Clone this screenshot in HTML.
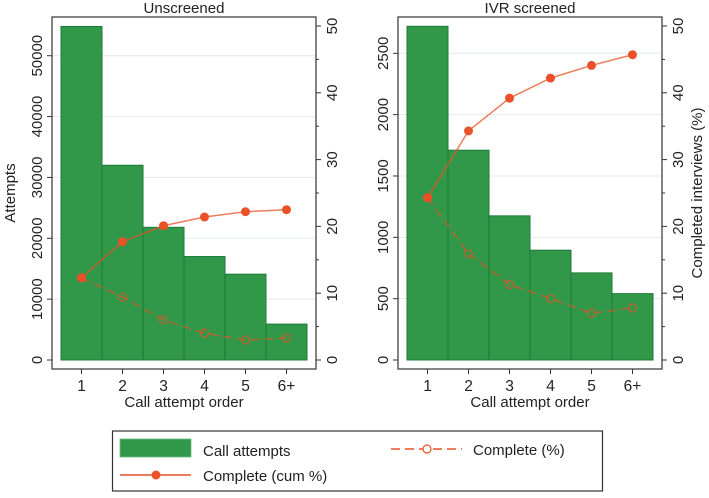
<!DOCTYPE html>
<html><head><meta charset="utf-8"><style>
body{margin:0;background:#fff;font-family:"Liberation Sans",sans-serif}
svg text{font-family:"Liberation Sans",sans-serif;fill:#222}
</style></head><body>
<svg id="c" width="709" height="493" viewBox="0 0 709 493"></svg>
<script>
const categories=["1","2","3","4","5","6+"];
const unscreenedAttempts=[54800,32000,21800,17000,14100,5900];
const unscreenedCum=[12.3,17.7,20.1,21.4,22.2,22.5];
const unscreenedComplete=[12.3,9.4,6.0,4.0,3.0,3.3];
const ivrAttempts=[2720,1710,1175,895,710,541];
const ivrCum=[24.3,34.3,39.2,42.2,44.1,45.7];
const ivrComplete=[24.3,15.9,11.3,9.2,7.0,7.8];
const unscreenedTicks=[0,10000,20000,30000,40000,50000];
const ivrTicks=[0,500,1000,1500,2000,2500];
const pctTicks=[0,10,20,30,40,50];

const NS="http://www.w3.org/2000/svg";
const svg=document.getElementById('c');
function mk(tag,attrs,parent,text){const e=document.createElementNS(NS,tag);for(const k in attrs)e.setAttribute(k,attrs[k]);if(text!==undefined)e.textContent=text;(parent||svg).appendChild(e);return e;}
const GREEN="#31984a",DARK="#1d7a37",ORANGE="#ea5128";

function panel(o){
  const g=mk('g',{});
  
  
  const x0=o.bx,x1=o.bx+264,top=17,bot=369,zero=360;
  const yL=v=>zero-v/o.lmax*(zero-o.lTop);
  const yR=v=>zero-v/50*(zero-26);
  const xC=i=>o.first+i*41;
  o.lticks.forEach(t=>{if(t>0){const gl=mk('line',{x1:x0,x2:x1,y1:yL(t),y2:yL(t),stroke:'#e4e8ec','stroke-width':1},g);}});
  o.bars.forEach((v,i)=>{const r=mk('rect',{x:xC(i)-20.5,y:yL(v),width:41,height:zero-yL(v),fill:GREEN,stroke:DARK,'stroke-width':1},g);});
  const fr=mk('rect',{x:x0,y:top,width:264,height:bot-top,fill:'none',stroke:'#333','stroke-width':1.2},g);
  
  o.lticks.forEach(t=>{const y=yL(t);mk('line',{x1:x0-5,x2:x0,y1:y,y2:y,stroke:'#333'},g);
    const tx=mk('text',{x:0,y:0,transform:`translate(${x0-10},${y}) rotate(-90)`,'text-anchor':'middle','font-size':15},g,String(t));
    });
  for(let t=0;t<=50;t+=5){const y=yR(t);mk('line',{x1:x1,x2:x1+(t%10?3:5),y1:y,y2:y,stroke:'#333'},g);}
  pctTicks.forEach(t=>{const tx=mk('text',{x:0,y:0,transform:`translate(${x1+21},${yR(t)}) rotate(-90)`,'text-anchor':'middle','font-size':15},g,String(t));
    });
  categories.forEach((c,i)=>{mk('line',{x1:xC(i),x2:xC(i),y1:bot,y2:bot+5,stroke:'#333'},g);
    const tx=mk('text',{x:xC(i),y:391,'text-anchor':'middle','font-size':15.5},g,c);
    });
  const xt=mk('text',{x:(x0+x1)/2,y:407,'text-anchor':'middle','font-size':15},g,'Call attempt order');
  
  const tt=mk('text',{x:(x0+x1)/2,y:13,'text-anchor':'middle','font-size':15},g,o.title);
  
  const cp=o.comp.map((v,i)=>xC(i)+','+yR(v)).join(' ');
  const l1=mk('polyline',{points:cp,fill:'none',stroke:ORANGE,'stroke-width':1.5,'stroke-dasharray':'9 5','stroke-opacity':0.7},g);
  
  o.comp.forEach((v,i)=>{const c=mk('circle',{cx:xC(i),cy:yR(v),r:4,fill:'none',stroke:ORANGE,'stroke-width':1.2,'stroke-opacity':0.8},g);});
  const pp=o.cum.map((v,i)=>xC(i)+','+yR(v)).join(' ');
  const l2=mk('polyline',{points:pp,fill:'none',stroke:ORANGE,'stroke-width':1.5,'stroke-opacity':0.75},g);
  
  o.cum.forEach((v,i)=>{const c=mk('circle',{cx:xC(i),cy:yR(v),r:4.5,fill:ORANGE},g);});
}
panel({name:'unscreened-panel',title:'Unscreened',bx:52,first:81.5,lmax:50000,lTop:55.7,lticks:unscreenedTicks,bars:unscreenedAttempts,cum:unscreenedCum,comp:unscreenedComplete});
panel({name:'ivr-panel',title:'IVR screened',bx:398,first:427.5,lmax:2500,lTop:53.3,lticks:ivrTicks,bars:ivrAttempts,cum:ivrCum,comp:ivrComplete});

const yl=mk('text',{x:0,y:0,transform:'translate(15,193) rotate(-90)','text-anchor':'middle','font-size':15},svg,'Attempts');

const yr=mk('text',{x:0,y:0,transform:'translate(702,193) rotate(-90)','text-anchor':'middle','font-size':15},svg,'Completed interviews (%)');


const lg=mk('g',{});


mk('rect',{x:112.5,y:431,width:490,height:60,fill:'#fff',stroke:'#333','stroke-width':1.2},lg);
const e1=mk('g',{},lg);
mk('rect',{x:120,y:439,width:71,height:18,fill:GREEN,stroke:'#6cbf7e','stroke-width':0.8},e1);
mk('text',{x:203,y:456,'font-size':15},e1,'Call attempts');
const e2=mk('g',{},lg);
mk('line',{x1:120,x2:191,y1:475,y2:475,stroke:ORANGE,'stroke-width':1.5},e2);
mk('circle',{cx:156,cy:475,r:4.5,fill:ORANGE},e2);
mk('text',{x:203,y:481,'font-size':15},e2,'Complete (cum %)');
const e3=mk('g',{},lg);
mk('line',{x1:391,x2:462,y1:449,y2:449,stroke:ORANGE,'stroke-width':1.5,'stroke-dasharray':'9 5'},e3);
mk('circle',{cx:427,cy:449,r:4,fill:'#fff',stroke:ORANGE,'stroke-width':1.2},e3);
mk('text',{x:473,y:455,'font-size':15},e3,'Complete (%)');
</script>
</body></html>
